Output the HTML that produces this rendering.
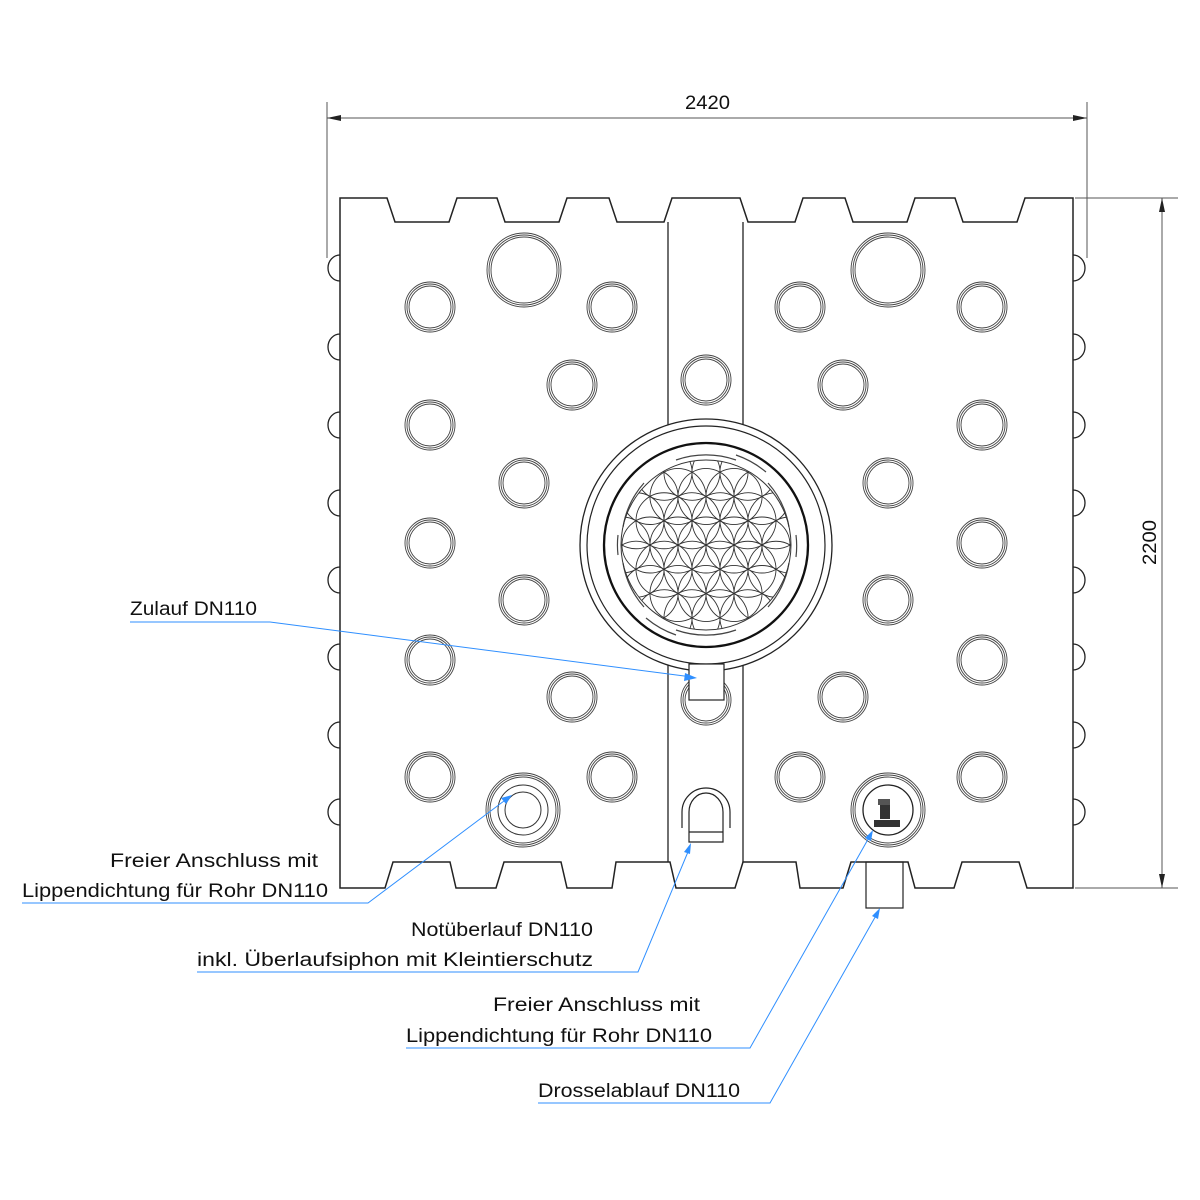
<!DOCTYPE html>
<html><head><meta charset="utf-8"><style>
html,body{margin:0;padding:0;background:#fff}
svg{display:block}
text{font-family:"Liberation Sans",sans-serif;font-size:19px;fill:#111}
</style></head><body>
<svg width="1200" height="1200" viewBox="0 0 1200 1200" xmlns="http://www.w3.org/2000/svg">
<defs>
<g id="hole" fill="none" stroke="#444" stroke-width="0.9">
<circle r="25"/><circle r="23"/><circle r="21"/>
</g>
<g id="bighole" fill="none" stroke="#444" stroke-width="0.9">
<circle r="37"/><circle r="35"/><circle r="33"/>
</g>
<g id="bumpL" fill="none" stroke="#222" stroke-width="1.3"><path d="M340,-13 A12,13 0 0 0 340,13"/></g>
<g id="sx" fill="none" stroke="#333" stroke-width="0.9">
<circle cx="28" cy="0" r="28"/><circle cx="56" cy="0" r="28"/><circle cx="42" cy="24.25" r="28"/>
<circle cx="84" cy="0" r="28"/><circle cx="70" cy="24.25" r="28"/><circle cx="56" cy="48.5" r="28"/>
</g>
<clipPath id="fc"><circle cx="0" cy="0" r="85"/></clipPath>
</defs>

<g stroke="#555" stroke-width="1" fill="none">
<line x1="327" y1="102" x2="327" y2="258"/>
<line x1="1087" y1="102" x2="1087" y2="258"/>
<line x1="327" y1="118" x2="1087" y2="118"/>
<line x1="1075" y1="198" x2="1178" y2="198"/>
<line x1="1075" y1="888" x2="1178" y2="888"/>
<line x1="1162" y1="198" x2="1162" y2="888"/>
</g>
<g fill="#222">
<path d="M327,118 l14,-3 v6z"/><path d="M1087,118 l-14,-3 v6z"/>
<path d="M1162,198 l-3,14 h6z"/><path d="M1162,888 l-3,-14 h6z"/>
</g>
<text x="685" y="109" textLength="45" lengthAdjust="spacingAndGlyphs">2420</text>
<text transform="translate(1156,543) rotate(-90)" x="-22" textLength="45" lengthAdjust="spacingAndGlyphs">2200</text>

<path fill="none" stroke="#222" stroke-width="1.5" d="
M340,888 V198 H387 L395,222 H449 L457,198 H497 L505,222 H559 L567,198 H609 L617,222 H664 L672,198 H740 L748,222 H795 L803,198 H845 L853,222 H907 L915,198 H955 L963,222 H1017 L1025,198 H1073 V888
H1027 L1019,862 H962 L954,888 H915 L908,862 H851 L843,888 H800 L796,862 H743 L735,888 H676 L670,862 H616 L612,888 H567 L561,862 H504 L496,888 H456 L450,862 H393 L385,888 Z"/>
<g stroke="#222" stroke-width="1.3">
<line x1="668" y1="222" x2="668" y2="425"/><line x1="743" y1="222" x2="743" y2="425"/>
<line x1="668" y1="665" x2="668" y2="862"/><line x1="743" y1="665" x2="743" y2="862"/>
</g>
<g>
<use href="#bumpL" transform="translate(0,268)"/><use href="#bumpL" transform="translate(0,347)"/>
<use href="#bumpL" transform="translate(0,425)"/><use href="#bumpL" transform="translate(0,503)"/>
<use href="#bumpL" transform="translate(0,580)"/><use href="#bumpL" transform="translate(0,657)"/>
<use href="#bumpL" transform="translate(0,735)"/><use href="#bumpL" transform="translate(0,812)"/>
</g>
<g transform="translate(1413,0) scale(-1,1)">
<use href="#bumpL" transform="translate(0,268)"/><use href="#bumpL" transform="translate(0,347)"/>
<use href="#bumpL" transform="translate(0,425)"/><use href="#bumpL" transform="translate(0,503)"/>
<use href="#bumpL" transform="translate(0,580)"/><use href="#bumpL" transform="translate(0,657)"/>
<use href="#bumpL" transform="translate(0,735)"/><use href="#bumpL" transform="translate(0,812)"/>
</g>

<use href="#bighole" x="524" y="270"/><use href="#bighole" x="888" y="270"/>
<use href="#hole" x="430" y="307"/><use href="#hole" x="612" y="307"/>
<use href="#hole" x="800" y="307"/><use href="#hole" x="982" y="307"/>
<use href="#hole" x="572" y="385"/><use href="#hole" x="706" y="380"/><use href="#hole" x="843" y="385"/>
<use href="#hole" x="430" y="425"/><use href="#hole" x="982" y="425"/>
<use href="#hole" x="524" y="483"/><use href="#hole" x="888" y="483"/>
<use href="#hole" x="430" y="543"/><use href="#hole" x="982" y="543"/>
<use href="#hole" x="524" y="600"/><use href="#hole" x="888" y="600"/>
<use href="#hole" x="430" y="660"/><use href="#hole" x="982" y="660"/>
<use href="#hole" x="572" y="697"/><use href="#hole" x="706" y="700"/><use href="#hole" x="843" y="697"/>
<use href="#hole" x="430" y="777"/><use href="#hole" x="612" y="777"/>
<use href="#hole" x="800" y="777"/><use href="#hole" x="982" y="777"/>

<use href="#bighole" x="523" y="810"/>
<g fill="none" stroke="#333" stroke-width="1"><circle cx="523" cy="810" r="25"/><circle cx="523" cy="810" r="18"/></g>
<use href="#bighole" x="888" y="810"/>
<circle cx="888" cy="810" r="25" fill="none" stroke="#222" stroke-width="1.3"/>
<g fill="#333"><rect x="874" y="820" width="26" height="7"/><rect x="880" y="805" width="10" height="14"/><rect x="878" y="799" width="12" height="6" fill="#555"/></g>
<g fill="none" stroke="#222" stroke-width="1.2">
<path d="M682,828 V812 A24,24 0 0 1 730,812 V828"/>
<path d="M689,842 V812 A17,19 0 0 1 723,812 V842 Z"/>
<line x1="689" y1="832" x2="723" y2="832"/>
<rect x="866" y="862" width="37" height="46"/>
</g>

<g transform="translate(706,545)">
<circle r="126" fill="#fff" stroke="#222" stroke-width="1.3"/>
<circle r="119" fill="none" stroke="#222" stroke-width="1.2"/>
<circle r="102" fill="none" stroke="#111" stroke-width="2.3"/>
<g fill="none" stroke="#444" stroke-width="1.2">
<path d="M-30,-85 A90,90 0 0 1 30,-85"/><path d="M30,-90 A95,95 0 0 1 60,-73"/>
<path d="M-62,-62 A88,88 0 0 0 -83,-18"/><path d="M-88,-10 A88,88 0 0 0 -88,10"/>
<path d="M62,-62 A88,88 0 0 1 83,-18"/><path d="M90,-10 A90,90 0 0 1 90,12"/>
<path d="M-83,18 A88,88 0 0 0 -62,62"/><path d="M83,18 A88,88 0 0 1 62,62"/>
<path d="M-30,85 A90,90 0 0 0 30,85"/><path d="M-60,73 A95,95 0 0 0 -30,90"/>
</g>
<g clip-path="url(#fc)">
<circle r="28" fill="none" stroke="#333" stroke-width="0.9"/>
<use href="#sx"/><use href="#sx" transform="rotate(60)"/><use href="#sx" transform="rotate(120)"/>
<use href="#sx" transform="rotate(180)"/><use href="#sx" transform="rotate(240)"/><use href="#sx" transform="rotate(300)"/>
</g>
<circle r="85" fill="none" stroke="#333" stroke-width="1"/>
</g>
<rect x="689" y="664" width="35" height="36" fill="#fff" stroke="#222" stroke-width="1.2"/>

<g stroke="#2f8fff" stroke-width="1" fill="none">
<polyline points="130,622 270,622 692,677"/>
<polyline points="22,903 368,903 508,798"/>
<polyline points="197,972 638,972 690,847"/>
<polyline points="406,1048 750,1048 871,834"/>
<polyline points="538,1103 770,1103 878,912"/>
</g>
<g fill="#2f8fff">
<path d="M697,678 l-12,-5 l-1,8z"/>
<path d="M512,795 l-11,3 l5,6z"/>
<path d="M691,843 l-7,9 l6,2z"/>
<path d="M873,830 l-8,8 l6,3z"/>
<path d="M880,908 l-8,8 l6,3z"/>
</g>

<text x="130" y="615" textLength="127" lengthAdjust="spacingAndGlyphs">Zulauf DN110</text>
<text x="110" y="867" textLength="208" lengthAdjust="spacingAndGlyphs">Freier Anschluss mit</text>
<text x="22" y="897" textLength="306" lengthAdjust="spacingAndGlyphs">Lippendichtung für Rohr DN110</text>
<text x="411" y="936" textLength="182" lengthAdjust="spacingAndGlyphs">Notüberlauf DN110</text>
<text x="197" y="966" textLength="396" lengthAdjust="spacingAndGlyphs">inkl. Überlaufsiphon mit Kleintierschutz</text>
<text x="493" y="1011" textLength="207" lengthAdjust="spacingAndGlyphs">Freier Anschluss mit</text>
<text x="406" y="1042" textLength="306" lengthAdjust="spacingAndGlyphs">Lippendichtung für Rohr DN110</text>
<text x="538" y="1097" textLength="202" lengthAdjust="spacingAndGlyphs">Drosselablauf DN110</text>
</svg>
</body></html>
